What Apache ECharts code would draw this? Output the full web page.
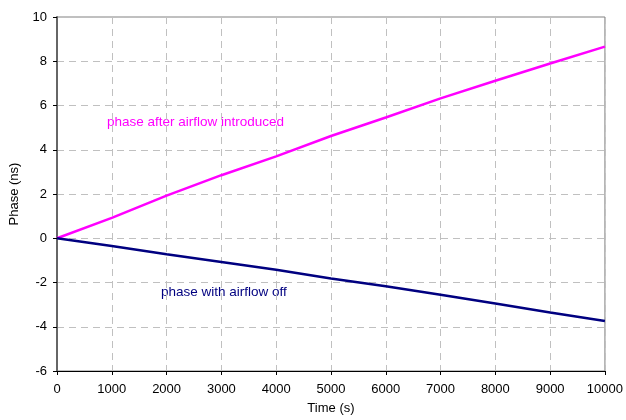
<!DOCTYPE html>
<html>
<head>
<meta charset="utf-8">
<script src="https://cdn.jsdelivr.net/npm/echarts@6/dist/echarts.min.js"></script>
<style>
  html, body { margin: 0; padding: 0; background: #fff; }
  #chart { width: 626px; height: 420px; }
</style>
</head>
<body>
<div id="chart"></div>
<script>
// Time samples (s)
const timeSeconds = [0, 1000, 2000, 3000, 4000, 5000, 6000, 7000, 8000, 9000, 10000];
// Phase after airflow introduced (ns)
const phaseAirflowOn = [0, 0.92, 1.93, 2.85, 3.70, 4.62, 5.46, 6.32, 7.12, 7.90, 8.66];
// Phase with airflow off (ns)
const phaseAirflowOff = [0, -0.35, -0.72, -1.07, -1.42, -1.82, -2.17, -2.55, -2.95, -3.36, -3.74];

const FONT = '"Liberation Sans", Arial, sans-serif';

const pairs = (xs, ys) => xs.map((x, i) => [x, ys[i]]);

const chart = echarts.init(document.getElementById('chart'), null, { renderer: 'canvas' });

const gridDash = { color: '#c0c0c0', width: 1, type: [7, 5] };

chart.setOption({
  animation: false,
  backgroundColor: '#ffffff',
  grid: { left: 54, right: 21, top: 17, bottom: 49, show: true, borderColor: '#808080', borderWidth: 1 },
  xAxis: {
    type: 'value',
    min: 0, max: 10000, interval: 1000,
    name: 'Time (s)',
    nameLocation: 'middle',
    nameGap: 31,
    nameTextStyle: { fontFamily: FONT, fontSize: 13, color: '#000' },
    axisLine: { show: true, onZero: false, lineStyle: { color: '#000', width: 1 } },
    axisTick: { show: true, length: 4, inside: false, lineStyle: { color: '#000' } },
    axisLabel: { fontFamily: FONT, fontSize: 13, color: '#000', margin: 12, formatter: v => String(v) },
    splitLine: { show: true, lineStyle: gridDash }
  },
  yAxis: {
    type: 'value',
    min: -6, max: 10, interval: 2,
    name: 'Phase (ns)',
    nameLocation: 'middle',
    nameGap: 36,
    nameTextStyle: { fontFamily: FONT, fontSize: 13, color: '#000' },
    axisLine: { show: true, onZero: false, lineStyle: { color: '#666', width: 2 } },
    axisTick: { show: true, length: 4, inside: false, lineStyle: { color: '#000' } },
    axisLabel: { fontFamily: FONT, fontSize: 13, color: '#000', margin: 10 },
    splitLine: { show: true, lineStyle: gridDash }
  },
  series: [
    {
      name: 'phase after airflow introduced',
      type: 'line',
      data: pairs(timeSeconds, phaseAirflowOn),
      showSymbol: false,
      lineStyle: { color: '#ff00ff', width: 2.5 },
      itemStyle: { color: '#ff00ff' },
      z: 3
    },
    {
      name: 'phase with airflow off',
      type: 'line',
      data: pairs(timeSeconds, phaseAirflowOff),
      showSymbol: false,
      lineStyle: { color: '#000080', width: 2.5 },
      itemStyle: { color: '#000080' },
      z: 3
    }
  ],
  graphic: [
    {
      type: 'text', left: 107, top: 115,
      style: { text: 'phase after airflow introduced', fill: '#ff00ff', font: '13.5px ' + FONT }
    },
    {
      type: 'text', left: 161, top: 285,
      style: { text: 'phase with airflow off', fill: '#000080', font: '13.5px ' + FONT }
    }
  ]
});
</script>
</body>
</html>
